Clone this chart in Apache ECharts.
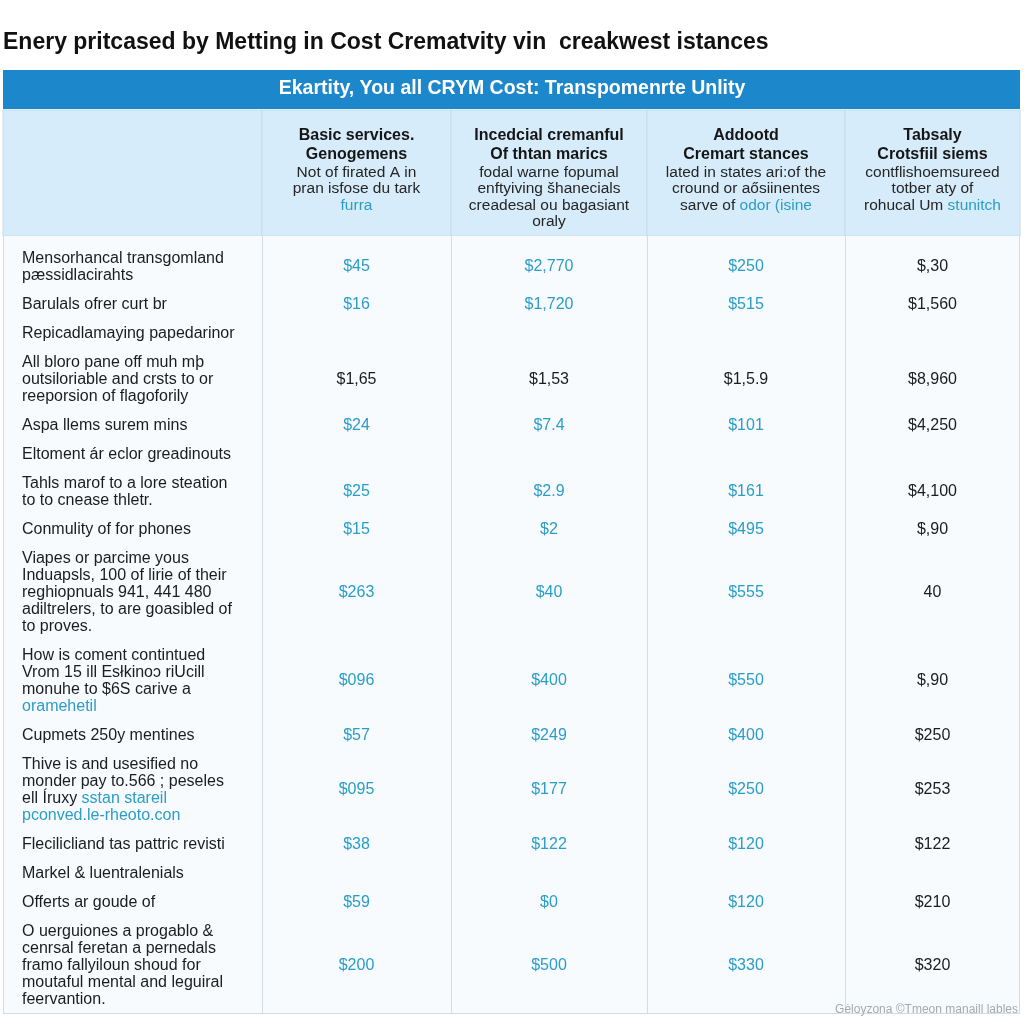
<!DOCTYPE html>
<html><head><meta charset="utf-8">
<script src="https://cdn.jsdelivr.net/npm/echarts@6/dist/echarts.min.js"></script>
<style>html,body{margin:0;padding:0;background:#fff}#chart{width:1024px;height:1024px}</style>
</head><body><div id="chart"></div>
<script>
// ---------------- data ----------------
const chartTitle = "Enery pritcased by Metting in Cost Crematvity vin  creakwest istances";
const bannerTitle = "Ekartity, You all CRYM Cost: Transpomenrte Unlity";
const columnHeads = [
  "",
  "Basic services.\nGenogemens",
  "Incedcial cremanful\nOf thtan marics",
  "Addootd\nCremart stances",
  "Tabsaly\nCrotsfiil siems"
];
const columnNotes = [
  "",
  "Not of firated A in\npran isfose du tark\n[furra]",
  "fodal warne fopumal\nenftyiving šhanecials\ncreadesal ou bagasiant\noraly",
  "lated in states ari:of the\ncround or aősiinentes\nsarve of [odor (isine]",
  "contflishoemsureed\ntotber aty of\nrohucal Um [stunitch]"
];
const rowLabels = [
  "Mensorhancal transgomland\npæssidlacirahts",
  "Barulals ofrer curt br",
  "Repicadlamaying papedarinor",
  "All bloro pane off muh mþ\noutsiloriable and crsts to or\nreeporsion of flagoforily",
  "Aspa llems surem mins",
  "Eltoment ár eclor greadinouts",
  "Tahls marof to a lore steation\nto to cnease thletr.",
  "Conmulity of for phones",
  "Viapes or parcime yous\nInduapsls, 100 of lirie of their\nreghiopnuals 941, 441 480\nadiltrelers, to are goasibled of\nto proves.",
  "How is coment contintued\nVrom 15 ill Esłkinoↄ riUcill\nmonuhe to $6S carive a\n[oramehetil]",
  "Cupmets 250y mentines",
  "Thive is and usesified no\nmonder pay to.566 ; peseles\nell Íruxy [sstan stareil]\n[pconved.le-rheoto.con]",
  "Flecilicliand tas pattric revisti",
  "Markel & luentralenials",
  "Offerts ar goude of",
  "O uerguiones a progablo &\ncenrsal feretan a pernedals\nframo fallyiloun shoud for\nmoutaful mental and leguiral\nfeervantion."
];
const basicServices     = ["$45","$16","","$1,65","$24","","$25","$15","$263","$096","$57","$095","$38","","$59","$200"];
const incidentalCharges = ["$2,770","$1,720","","$1,53","$7.4","","$2.9","$2","$40","$400","$249","$177","$122","","$0","$500"];
const addedCharges      = ["$250","$515","","$1,5.9","$101","","$161","$495","$555","$550","$400","$250","$120","","$120","$330"];
const totalCosts        = ["$,30","$1,560","","$8,960","$4,250","","$4,100","$,90","40","$,90","$250","$253","$122","","$210","$320"];
const watermark = "Gėloyzona ©Tmeon manaill lables";

// ---------------- layout / style ----------------
const FONT = "'Liberation Sans', Arial, sans-serif";
const TEAL = "#2b9dc6";
const DARK = "#1c1c1c";
const colWidths = [259, 189, 196, 198, 175];
const colEdges = [0];
colWidths.forEach(w => colEdges.push(colEdges[colEdges.length - 1] + w));
const TABLE_W = colEdges[colEdges.length - 1];
const HEADER_H = 126, BODY_PAD = 8, LINE_H = 17, ROW_GAP = 29;
const valueColumns = [basicServices, incidentalCharges, addedCharges, totalCosts];
const darkValueRows = new Set([3]);
const rowEdges = [HEADER_H + BODY_PAD];
rowLabels.forEach(l => {
  const n = l.split('\n').length;
  rowEdges.push(rowEdges[rowEdges.length - 1] + (n - 1) * LINE_H + ROW_GAP);
});
const TOTAL_H = rowEdges[rowEdges.length - 1];

function toRich(text, base) {
  return text.split('\n').map(line =>
    line.split(/(\[[^\]]*\])/).filter(s => s).map(s =>
      s[0] === '[' ? '{l|' + s.slice(1, -1) + '}' : '{' + base + '|' + s + '}'
    ).join('')
  ).join('\n');
}

const headerData = columnHeads.map((h, i) => [i, 0]);
const bodyData = [];
rowLabels.forEach((l, r) => { for (let c = 0; c < 5; c++) bodyData.push([c, r]); });

function renderHeader(params, api) {
  const c = api.value(0);
  const p0 = api.coord([colEdges[c], 0]);
  const p1 = api.coord([colEdges[c + 1], HEADER_H]);
  const children = [{
    type: 'rect',
    shape: { x: p0[0], y: p0[1], width: p1[0] - p0[0], height: p1[1] - p0[1] },
    style: { fill: '#d6ecfa', stroke: '#c4dcec', lineWidth: 1 }
  }];
  if (columnHeads[c]) {
    const heads = columnHeads[c].split('\n').map(s => '{h|' + s + '}').join('\n');
    const txt = heads + '\n' + toRich(columnNotes[c], 'n');
    const top = api.coord([0, 16])[1];
    children.push({
      type: 'text',
      style: {
        x: (p0[0] + p1[0]) / 2, y: top, text: txt, align: 'center', verticalAlign: 'top',
        fontFamily: FONT, fontSize: 15,
        rich: {
          h: { fontSize: 16, fontWeight: 'bold', fill: '#151515', lineHeight: 19, fontFamily: FONT },
          n: { fontSize: 15.5, fill: '#252525', lineHeight: 16.5, fontFamily: FONT },
          l: { fontSize: 15.5, fill: TEAL, lineHeight: 16.5, fontFamily: FONT }
        }
      }
    });
  }
  return { type: 'group', children };
}

function renderBody(params, api) {
  const c = api.value(0), r = api.value(1);
  const p0 = api.coord([colEdges[c], rowEdges[r] - (r === 0 ? BODY_PAD : 0)]);
  const p1 = api.coord([colEdges[c + 1], rowEdges[r + 1]]);
  const cy = (api.coord([0, rowEdges[r]])[1] + p1[1]) / 2;
  const children = [{
    type: 'rect',
    shape: { x: p0[0], y: p0[1], width: p1[0] - p0[0], height: p1[1] - p0[1] },
    style: { fill: '#f7fbfe' }
  }, {
    type: 'line',
    shape: { x1: p0[0] + 0.5, y1: p0[1], x2: p0[0] + 0.5, y2: p1[1] },
    style: { stroke: '#d4dce2', lineWidth: 1 }
  }];
  if (c === 4) children.push({
    type: 'line',
    shape: { x1: p1[0] - 0.5, y1: p0[1], x2: p1[0] - 0.5, y2: p1[1] },
    style: { stroke: '#d4dce2', lineWidth: 1 }
  });
  if (r === rowLabels.length - 1) children.push({
    type: 'line',
    shape: { x1: p0[0], y1: p1[1] - 0.5, x2: p1[0], y2: p1[1] - 0.5 },
    style: { stroke: '#d4dce2', lineWidth: 1 }
  });
  if (c === 0) {
    children.push({
      type: 'text',
      style: {
        x: p0[0] + 19, y: cy, text: toRich(rowLabels[r], 't'), align: 'left', verticalAlign: 'middle',
        fontFamily: FONT, fontSize: 16,
        rich: {
          t: { fontSize: 16, fill: DARK, lineHeight: LINE_H, fontFamily: FONT },
          l: { fontSize: 16, fill: TEAL, lineHeight: LINE_H, fontFamily: FONT }
        }
      }
    });
  } else {
    const v = valueColumns[c - 1][r];
    if (v) {
      const color = (c === 4 || darkValueRows.has(r)) ? DARK : TEAL;
      children.push({
        type: 'text',
        style: {
          x: (p0[0] + p1[0]) / 2, y: cy, text: v, align: 'center', verticalAlign: 'middle',
          fontFamily: FONT, fontSize: 16, fill: color
        }
      });
    }
  }
  return { type: 'group', children };
}

const chart = echarts.init(document.getElementById('chart'), null, { renderer: 'canvas' });
chart.setOption({
  backgroundColor: '#ffffff',
  animation: false,
  title: {
    text: chartTitle, left: -2, top: 26,
    textStyle: { fontFamily: FONT, fontSize: 23, fontWeight: 'bold', color: '#111' }
  },
  grid: { left: 3, top: 110, width: TABLE_W, height: TOTAL_H },
  xAxis: { type: 'value', min: 0, max: TABLE_W, show: false },
  yAxis: { type: 'value', min: 0, max: TOTAL_H, inverse: true, show: false },
  graphic: [
    { type: 'rect', left: 3, top: 70, z: 50, shape: { width: TABLE_W, height: 39 }, style: { fill: '#1d87cb' } },
    { type: 'text', left: 'center', top: 79, z: 51,
      style: { text: bannerTitle, fill: '#ffffff', font: "bold 19.5px 'Liberation Sans', Arial, sans-serif" } },
    { type: 'text', right: 6, bottom: 8, z: 100,
      style: { text: watermark, fill: '#a3abb0', font: "12px 'Liberation Sans', Arial, sans-serif" } }
  ],
  series: [
    { type: 'custom', renderItem: renderHeader, data: headerData, silent: true, clip: false },
    { type: 'custom', renderItem: renderBody, data: bodyData, silent: true, clip: false, z: 3 }
  ]
});
</script></body></html>
